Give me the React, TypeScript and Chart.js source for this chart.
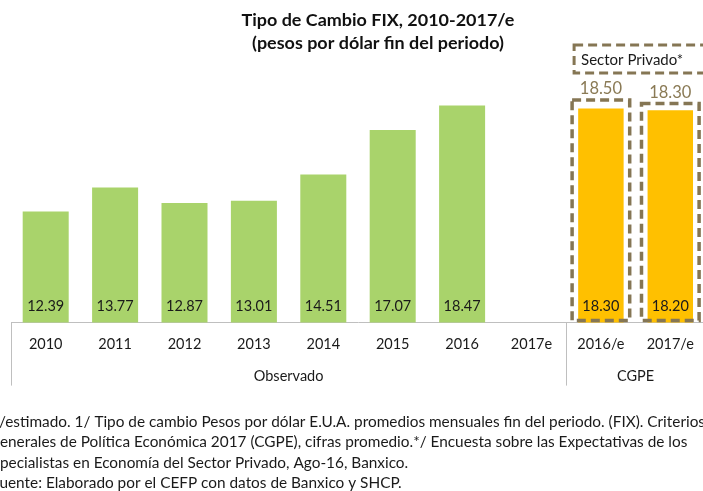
import React, { useEffect, useRef } from "react";
import { Chart, registerables } from "chart.js";

Chart.register(...registerables);

const categories = ["2010", "2011", "2012", "2013", "2014", "2015", "2016", "2017e", "2016/e", "2017/e"];
const observado = [12.39, 13.77, 12.87, 13.01, 14.51, 17.07, 18.47, null, null, null];
const cgpe = [null, null, null, null, null, null, null, null, 18.3, 18.2];
const sectorPrivado = [null, null, null, null, null, null, null, null, 18.5, 18.3];
const groupLabels = ["Observado", "CGPE"];
const groupStarts = [0, 8];
const groupEnds = [7, 9];
const titleLines = ["Tipo de Cambio FIX, 2010-2017/e", "(pesos por dólar fin del periodo)"];
const footnotes = [
  "e/estimado. 1/ Tipo de cambio Pesos por dólar E.U.A. promedios mensuales fin del periodo. (FIX). Criterios",
  "Generales de Política Económica 2017 (CGPE), cifras promedio.*/ Encuesta sobre las Expectativas de los",
  "Especialistas en Economía del Sector Privado, Ago-16, Banxico.",
  "Fuente: Elaborado por el CEFP con datos de Banxico y SHCP.",
];
// portion of each footnote line that falls left of the visible picture
const footnoteHidden = ["e", "G", "Es", "F"];
const boxLabel = "Sector Privado*";

const FONT = "Lato, 'Open Sans', sans-serif";
const TEXT = "#1a1a1a";
const DASH = "#857654";

function fitSize(ctx: CanvasRenderingContext2D, text: string, weight: string, target: number) {
  ctx.font = `${weight} 14px ${FONT}`;
  return (14 * target) / ctx.measureText(text).width;
}

const overlayPlugin = {
  id: "overlay",
  afterDatasetsDraw(chart: any) {
    const ctx = chart.ctx;
    const area = chart.chartArea;
    ctx.save();
    // value labels inside bars
    [0, 1].forEach((di) => {
      const meta = chart.getDatasetMeta(di);
      const data = chart.data.datasets[di].data;
      meta.data.forEach((el: any, i: number) => {
        const v = data[i];
        if (v == null) return;
        ctx.font = `14.5px ${FONT}`;
        ctx.fillStyle = TEXT;
        ctx.textAlign = "center";
        ctx.textBaseline = "middle";
        ctx.fillText(v.toFixed(2), el.x, area.bottom - 16);
      });
    });
    // dashed boxes for private sector
    const meta2 = chart.getDatasetMeta(2);
    const data2 = chart.data.datasets[2].data;
    let firstLeft: number | null = null;
    meta2.data.forEach((el: any, i: number) => {
      const v = data2[i];
      if (v == null) return;
      const left = el.x - el.width / 2;
      const right = el.x + el.width / 2;
      const top = el.y - 5;
      const bottom = area.bottom - 2;
      if (firstLeft === null) firstLeft = left;
      ctx.strokeStyle = DASH;
      ctx.lineWidth = 3.5;
      ctx.setLineDash([9, 5]);
      ctx.strokeRect(left, top, right - left, bottom - top);
      ctx.setLineDash([]);
      ctx.font = `16.5px ${FONT}`;
      ctx.fillStyle = "#8a7a55";
      ctx.textAlign = "center";
      ctx.textBaseline = "middle";
      ctx.fillText(v.toFixed(2), el.x, top - 11);
    });
    if (firstLeft !== null) {
      const bl = (firstLeft as number) + 2;
      ctx.strokeStyle = DASH;
      ctx.lineWidth = 3;
      ctx.setLineDash([9, 5]);
      ctx.strokeRect(bl, 45, 150, 28);
      ctx.setLineDash([]);
      ctx.font = `15px ${FONT}`;
      ctx.fillStyle = TEXT;
      ctx.textAlign = "left";
      ctx.textBaseline = "middle";
      ctx.fillText(boxLabel, bl + 7, 60);
    }
    // group separators and labels
    const n = categories.length;
    const w = (area.right - area.left) / n;
    ctx.strokeStyle = "#bfbfbf";
    ctx.lineWidth = 1;
    groupLabels.forEach((g, gi) => {
      const x0 = area.left + groupStarts[gi] * w;
      const x1 = area.left + (groupEnds[gi] + 1) * w;
      ctx.beginPath();
      ctx.moveTo(Math.round(x0) + 0.5, area.bottom);
      ctx.lineTo(Math.round(x0) + 0.5, area.bottom + 63);
      ctx.stroke();
      ctx.font = `14.5px ${FONT}`;
      ctx.fillStyle = TEXT;
      ctx.textAlign = "center";
      ctx.textBaseline = "middle";
      ctx.fillText(g, (x0 + x1) / 2, area.bottom + 54);
    });

    // title
    const ts = fitSize(ctx, titleLines[0], "bold", 273);
    ctx.font = `bold ${ts}px ${FONT}`;
    ctx.fillStyle = "#111";
    ctx.textAlign = "center";
    ctx.textBaseline = "middle";
    ctx.fillText(titleLines[0], 378, 20);
    ctx.fillText(titleLines[1], 378, 43);

    // footnotes
    ctx.font = `14px ${FONT}`;
    const visible2 = ctx.measureText(footnotes[1]).width - ctx.measureText(footnoteHidden[1]).width;
    const fs = (14 * 688) / visible2;
    ctx.font = `${fs}px ${FONT}`;
    ctx.fillStyle = TEXT;
    ctx.textAlign = "left";
    ctx.textBaseline = "middle";
    footnotes.forEach((t, i) => {
      const off = ctx.measureText(footnoteHidden[i]).width + (i === 0 ? 1 : 0);
      ctx.fillText(t, -off, 422 + i * 20.5);
    });
    ctx.restore();
  },
};

export default function App() {
  const ref = useRef<HTMLCanvasElement>(null);
  useEffect(() => {
    if (!ref.current) return;
    const chart = new Chart(ref.current, {
      type: "bar",
      data: {
        labels: categories,
        datasets: [
          {
            label: "Observado",
            data: observado,
            backgroundColor: "#a9d36b",
            grouped: false,
            barPercentage: 1,
            categoryPercentage: 0.663,
            order: 2,
          },
          {
            label: "CGPE",
            data: cgpe,
            backgroundColor: "#ffc000",
            grouped: false,
            barPercentage: 1,
            categoryPercentage: 0.655,
            order: 1,
          },
          {
            label: "Sector Privado",
            data: sectorPrivado,
            backgroundColor: "rgba(0,0,0,0)",
            borderWidth: 0,
            grouped: false,
            barPercentage: 1,
            categoryPercentage: 0.83,
            order: 0,
          },
        ],
      },
      options: {
        animation: false,
        responsive: false,
        layout: { padding: { left: 11, right: 7, top: 79, bottom: 125 } },
        plugins: {
          legend: { display: false },
          title: { display: false },
          tooltip: { enabled: false },
        },
        scales: {
          x: {
            grid: { display: false, drawTicks: false },
            border: { display: true, color: "#bfbfbf", width: 1 },
            ticks: {
              color: TEXT,
              font: { family: FONT, size: 14.5 },
              padding: 13,
              maxRotation: 0,
              autoSkip: false,
            },
          },
          y: {
            display: false,
            min: 6,
            max: 20,
          },
        },
      },
      plugins: [overlayPlugin],
    });
    return () => chart.destroy();
  }, []);

  return (
    <div
      style={{
        position: "fixed",
        left: 0,
        top: 0,
        width: 703,
        height: 491,
        overflow: "hidden",
        background: "#fff",
      }}
    >
      <canvas ref={ref} width={712} height={491} style={{ position: "absolute", left: 0, top: 0, width: 712, height: 491 }} />
    </div>
  );
}
